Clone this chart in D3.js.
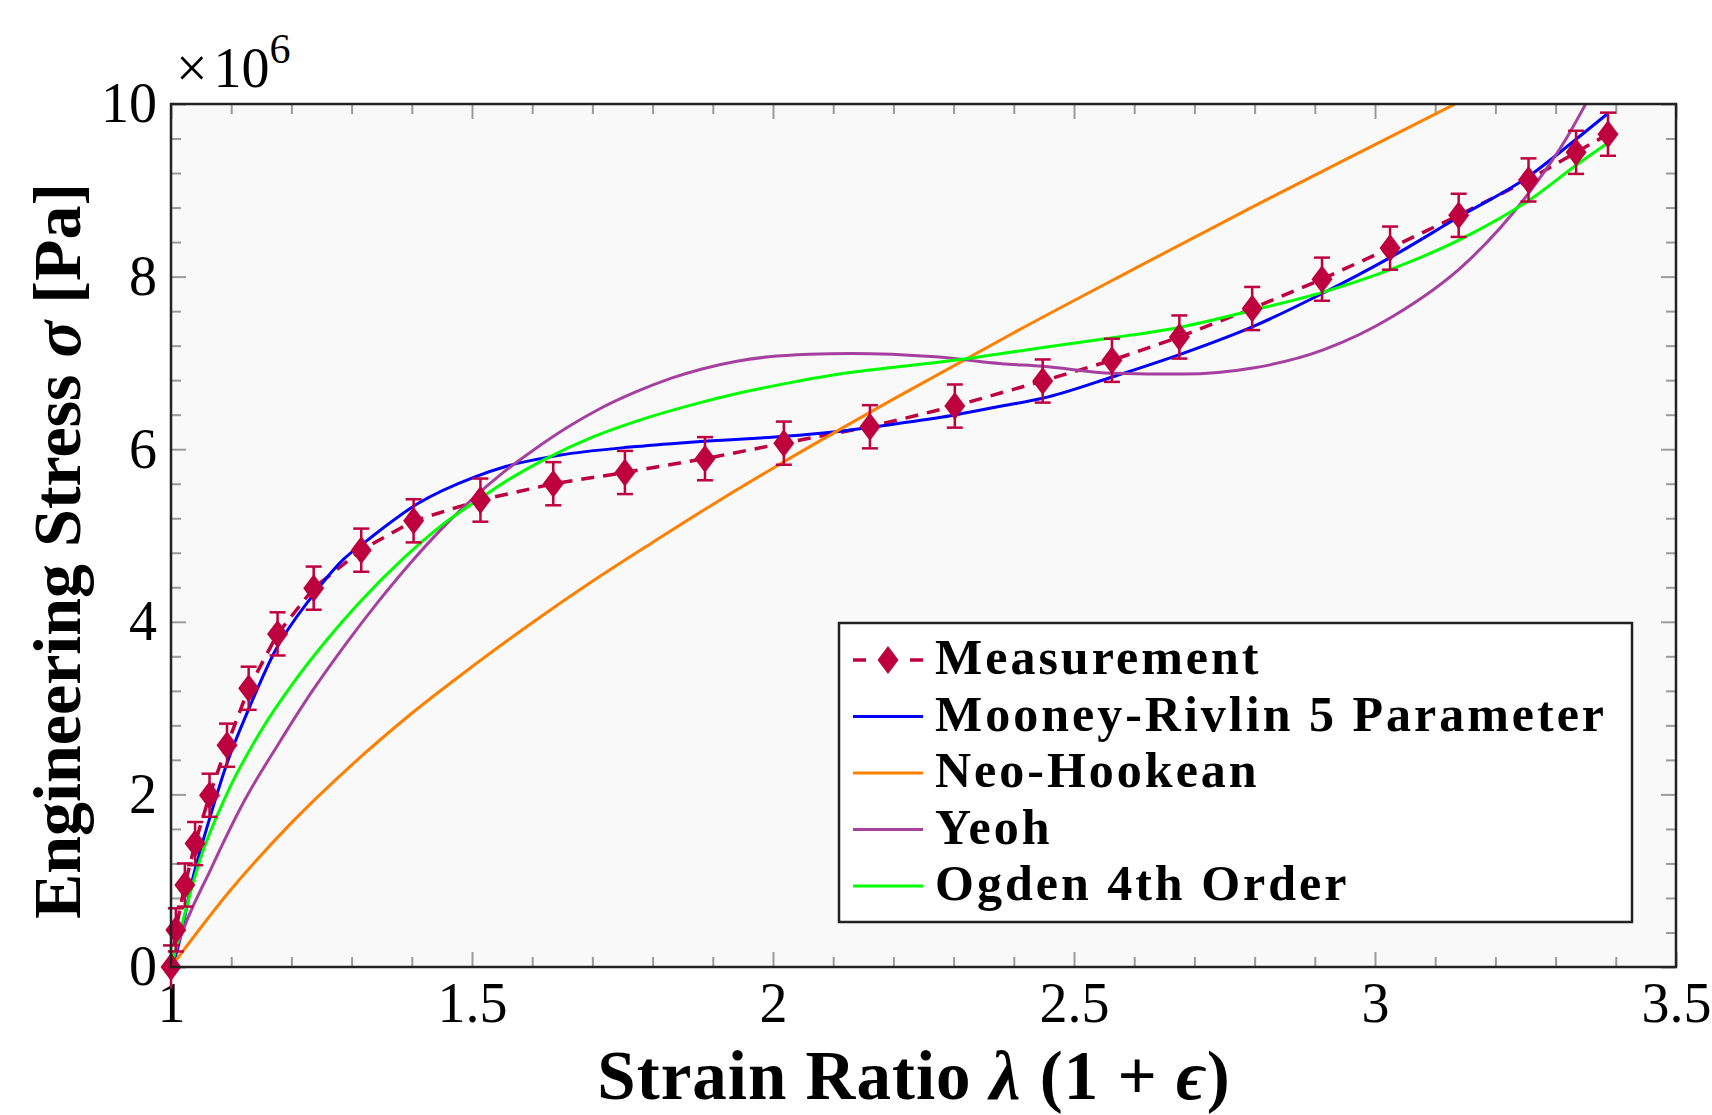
<!DOCTYPE html>
<html>
<head>
<meta charset="utf-8">
<script src="https://cdn.jsdelivr.net/npm/d3@7"></script>
<style>
  body { margin: 0; background: #fff; }
  .tick text { font-family: "Liberation Serif", serif; font-size: 56px; fill: #000; }
  .domain { display: none; }
  .tick line { stroke: #9a9a9a; stroke-width: 2; }
</style>
</head>
<body>
<div id="chart-area"></div>
<script>
// measurement (stretch ratio, stress in units of 1e6 Pa)
const measLambda = [1.000, 1.008, 1.023, 1.040, 1.064, 1.093, 1.129, 1.177, 1.237, 1.316,
                    1.403, 1.514, 1.635, 1.754, 1.887, 2.018, 2.161, 2.302, 2.448, 2.563,
                    2.675, 2.796, 2.912, 3.025, 3.139, 3.255, 3.334, 3.387];
const measStress = [0.00, 0.43, 0.95, 1.43, 1.99, 2.57, 3.23, 3.86, 4.39, 4.83,
                    5.17, 5.41, 5.60, 5.73, 5.89, 6.07, 6.26, 6.50, 6.79, 7.03,
                    7.30, 7.63, 7.97, 8.33, 8.71, 9.12, 9.44, 9.65];
const measErr = [0.25, 0.25, 0.25, 0.25, 0.25, 0.25, 0.25, 0.25, 0.25, 0.25,
                 0.25, 0.25, 0.25, 0.25, 0.25, 0.25, 0.25, 0.25, 0.25, 0.25,
                 0.25, 0.25, 0.25, 0.25, 0.25, 0.25, 0.25, 0.25];

const mooneyLambda = [1.000, 1.007, 1.037, 1.065, 1.093, 1.131, 1.172, 1.235, 1.286, 1.327,
                      1.410, 1.505, 1.556, 1.645, 1.772, 1.880, 2.020, 2.100, 2.210, 2.305,
                      2.380, 2.448, 2.565, 2.681, 2.797, 2.914, 3.025, 3.139, 3.255, 3.332, 3.385];
const mooneyStress = [0.00, 0.12, 1.05, 1.74, 2.36, 3.02, 3.65, 4.30, 4.72, 4.95,
                      5.37, 5.68, 5.80, 5.93, 6.03, 6.09, 6.15, 6.20, 6.30, 6.40,
                      6.50, 6.59, 6.84, 7.11, 7.42, 7.81, 8.22, 8.69, 9.16, 9.58, 9.88];

const neoLambda = [1.0, 1.1, 1.2, 1.3, 1.4, 1.5, 1.6, 1.7, 1.8, 1.9, 2.0, 2.2, 2.4, 2.6, 2.8, 3.0, 3.15];
const neoStress = [0.00, 0.90, 1.67, 2.34, 2.94, 3.48, 3.99, 4.47, 4.92, 5.36, 5.78, 6.58, 7.35, 8.09, 8.82, 9.53, 10.06];

const yeohLambda = [1.000, 1.010, 1.068, 1.123, 1.179, 1.234, 1.289, 1.345, 1.400, 1.450,
                    1.500, 1.550, 1.600, 1.660, 1.710, 1.771, 1.830, 1.882, 1.940, 1.993,
                    2.060, 2.130, 2.270, 2.380, 2.448, 2.565, 2.681, 2.797, 2.914, 3.030,
                    3.150, 3.261, 3.316, 3.350, 3.385];
const yeohStress = [0.00, 0.23, 1.16, 1.94, 2.59, 3.19, 3.73, 4.24, 4.70, 5.08,
                    5.42, 5.72, 5.98, 6.26, 6.46, 6.66, 6.82, 6.93, 7.02, 7.07,
                    7.10, 7.11, 7.07, 6.99, 6.96, 6.88, 6.87, 6.94, 7.15, 7.54,
                    8.15, 9.02, 9.58, 10.00, 10.45];

const ogdenLambda = [1.000, 1.010, 1.048, 1.093, 1.148, 1.204, 1.260, 1.310, 1.390, 1.450,
                     1.518, 1.550, 1.620, 1.700, 1.771, 1.879, 1.937, 2.020, 2.100, 2.214,
                     2.312, 2.380, 2.552, 2.681, 2.797, 2.914, 3.025, 3.150, 3.255, 3.338, 3.385];
const ogdenStress = [0.00, 0.27, 1.24, 2.01, 2.72, 3.30, 3.80, 4.20, 4.76, 5.12,
                     5.45, 5.60, 5.88, 6.14, 6.32, 6.54, 6.64, 6.76, 6.86, 6.96,
                     7.04, 7.11, 7.28, 7.42, 7.61, 7.82, 8.08, 8.46, 8.88, 9.31, 9.54];

const xMajor = [1, 1.5, 2, 2.5, 3, 3.5];
const yMajor = [0, 2, 4, 6, 8, 10];

const series = [
  { name: 'Mooney-Rivlin 5 Parameter', color: '#0000ff', lam: mooneyLambda, s: mooneyStress },
  { name: 'Neo-Hookean', color: '#ff8000', lam: neoLambda, s: neoStress },
  { name: 'Yeoh', color: '#a6409f', lam: yeohLambda, s: yeohStress },
  { name: 'Ogden 4th Order', color: '#00ff00', lam: ogdenLambda, s: ogdenStress }
];
const measColor = '#bf003f';

var margin = { left: 171, right: 36, top: 104, bottom: 148 };
var width = 1712 - margin.left - margin.right,
    height = 1115 - margin.top - margin.bottom;

var svg = d3.select('#chart-area').append('svg')
    .attr('width', 1712).attr('height', 1115);
var g = svg.append('g')
    .attr('transform', 'translate(' + margin.left + ',' + margin.top + ')');

let x = d3.scaleLinear().domain([1, 3.5]).range([0, width]);
let y = d3.scaleLinear().domain([0, 10]).range([height, 0]);

g.append('rect').attr('width', width).attr('height', height).attr('fill', '#f9f9f9');

g.append('clipPath').attr('id', 'clip')
  .append('rect').attr('width', width).attr('height', height);

// minor ticks
let xMinor = d3.range(11, 35).map(d => d / 10).filter(d => Math.abs(d * 2 - Math.round(d * 2)) > 1e-6);
let yMinor = d3.range(0, 26).map(d => d * 0.4).filter(d => Math.abs(d / 2 - Math.round(d / 2)) > 1e-6);

g.append('g').attr('transform', 'translate(0,' + height + ')')
  .call(d3.axisBottom(x).tickValues(xMinor).tickSize(-10).tickFormat(''));
g.append('g')
  .call(d3.axisTop(x).tickValues(xMinor).tickSize(-10).tickFormat(''));
g.append('g')
  .call(d3.axisLeft(y).tickValues(yMinor).tickSize(-10).tickFormat(''));
g.append('g').attr('transform', 'translate(' + width + ',0)')
  .call(d3.axisRight(y).tickValues(yMinor).tickSize(-10).tickFormat(''));

// major ticks
g.append('g').attr('class', 'x-axis').attr('transform', 'translate(0,' + height + ')')
  .call(d3.axisBottom(x).tickValues(xMajor).tickSize(-15).tickPadding(15).tickFormat(d3.format('~g')));
g.append('g')
  .call(d3.axisTop(x).tickValues(xMajor).tickSize(-15).tickFormat(''));
g.append('g').attr('class', 'y-axis')
  .call(d3.axisLeft(y).tickValues(yMajor).tickSize(-15).tickPadding(14).tickFormat(d3.format('~g')));
g.append('g').attr('transform', 'translate(' + width + ',0)')
  .call(d3.axisRight(y).tickValues(yMajor).tickSize(-15).tickFormat(''));

let plot = g.append('g').attr('clip-path', 'url(#clip)');

// measurement: dashed line, error bars, diamonds
let meas = d3.zip(measLambda, measStress, measErr);
plot.append('path')
  .datum(meas)
  .attr('d', d3.line().x(d => x(d[0])).y(d => y(d[1])))
  .attr('fill', 'none').attr('stroke', measColor)
  .attr('stroke-width', 3.5).attr('stroke-dasharray', '13,9');

let eb = g.append('g').attr('stroke', measColor).attr('stroke-width', 2.5);
eb.selectAll('line.v').data(meas).enter().append('line')
  .attr('x1', d => x(d[0])).attr('x2', d => x(d[0]))
  .attr('y1', d => y(d[1] - d[2])).attr('y2', d => y(d[1] + d[2]));
eb.selectAll('line.t').data(meas).enter().append('line')
  .attr('x1', d => x(d[0]) - 8).attr('x2', d => x(d[0]) + 8)
  .attr('y1', d => y(d[1] + d[2])).attr('y2', d => y(d[1] + d[2]));
eb.selectAll('line.b').data(meas).enter().append('line')
  .attr('x1', d => x(d[0]) - 8).attr('x2', d => x(d[0]) + 8)
  .attr('y1', d => y(Math.max(d[1] - d[2], 0))).attr('y2', d => y(Math.max(d[1] - d[2], 0)));

const diamond = 'M0,-14L10.5,0L0,14L-10.5,0Z';
g.selectAll('path.mark').data(meas).enter().append('path')
  .attr('d', diamond)
  .attr('transform', d => 'translate(' + x(d[0]) + ',' + y(d[1]) + ')')
  .attr('fill', measColor);

// model curves
let curve = d3.line().x(d => x(d[0])).y(d => y(d[1])).curve(d3.curveMonotoneX);
series.forEach(s => {
  plot.append('path')
    .datum(d3.zip(s.lam, s.s))
    .attr('d', curve)
    .attr('fill', 'none').attr('stroke', s.color).attr('stroke-width', 3);
});

// frame
g.append('rect').attr('width', width).attr('height', height)
  .attr('fill', 'none').attr('stroke', '#222').attr('stroke-width', 2.5);

// legend
let lg = g.append('g').attr('transform', 'translate(' + (839 - margin.left) + ',' + (623 - margin.top) + ')');
lg.append('rect').attr('width', 793).attr('height', 299)
  .attr('fill', '#fff').attr('stroke', '#222').attr('stroke-width', 2.5);
let entries = [{ name: 'Measurement', color: measColor }].concat(series);
entries.forEach((e, i) => {
  let yy = 37 + i * 56.5;
  if (i === 0) {
    lg.append('line').attr('x1', 14).attr('x2', 27).attr('y1', yy).attr('y2', yy)
      .attr('stroke', e.color).attr('stroke-width', 3.5);
    lg.append('line').attr('x1', 71).attr('x2', 84).attr('y1', yy).attr('y2', yy)
      .attr('stroke', e.color).attr('stroke-width', 3.5);
    lg.append('path').attr('d', diamond).attr('transform', 'translate(49,' + yy + ')')
      .attr('fill', e.color);
  } else {
    lg.append('line').attr('x1', 14).attr('x2', 84).attr('y1', yy).attr('y2', yy)
      .attr('stroke', e.color).attr('stroke-width', 3);
  }
  lg.append('text').attr('x', 96).attr('y', yy + 14)
    .attr('font-family', '"Liberation Serif", serif').attr('font-weight', 'bold')
    .attr('font-size', 50).attr('letter-spacing', 3)
    .text(e.name);
});

// axis labels
let xl = svg.append('text')
  .attr('x', 914).attr('y', 1099).attr('text-anchor', 'middle')
  .attr('font-family', '"Liberation Serif", serif').attr('font-weight', 'bold')
  .attr('font-size', 69).attr('letter-spacing', 1);
xl.append('tspan').text('Strain Ratio ');
xl.append('tspan').attr('font-style', 'italic').text('λ');
xl.append('tspan').text(' (1 + ');
xl.append('tspan').attr('font-style', 'italic').text('ϵ');
xl.append('tspan').text(')');

let yl = svg.append('text')
  .attr('transform', 'translate(80,551) rotate(-90)').attr('text-anchor', 'middle')
  .attr('font-family', '"Liberation Serif", serif').attr('font-weight', 'bold').attr('font-size', 68);
yl.append('tspan').text('Engineering Stress ');
yl.append('tspan').attr('font-style', 'italic').text('σ');
yl.append('tspan').text(' [Pa]');

// exponent label
let ex = svg.append('text').attr('x', 176).attr('y', 87)
  .attr('font-family', '"Liberation Serif", serif').attr('font-size', 56);
ex.append('tspan').text('×');
ex.append('tspan').attr('dx', 6).text('10');
ex.append('tspan').attr('dy', -24).attr('font-size', 42).text('6');
</script>
</body>
</html>
